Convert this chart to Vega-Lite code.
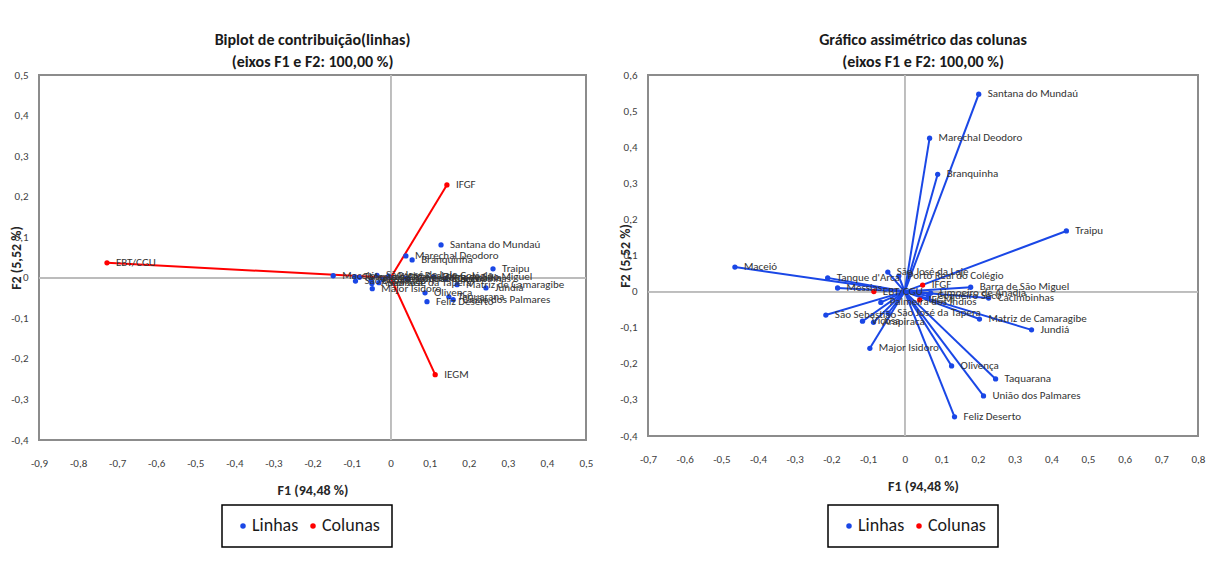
{
  "$schema": "https://vega.github.io/schema/vega-lite/v6.json",
  "background": "white",
  "padding": {"left": 8, "top": 31, "right": 5, "bottom": 5},
  "datasets": {
    "pts": [
      {"p": "L", "n": "EBT/CGU", "x": -0.726, "y": 0.037, "t": "Colunas"},
      {"p": "L", "n": "IFGF", "x": 0.144, "y": 0.229, "t": "Colunas"},
      {"p": "L", "n": "IEGM", "x": 0.114, "y": -0.239, "t": "Colunas"},
      {"p": "L", "n": "Santana do Mundaú", "x": 0.129, "y": 0.081, "t": "Linhas"},
      {"p": "L", "n": "Marechal Deodoro", "x": 0.039, "y": 0.054, "t": "Linhas"},
      {"p": "L", "n": "Branquinha", "x": 0.055, "y": 0.044, "t": "Linhas"},
      {"p": "L", "n": "Traipu", "x": 0.262, "y": 0.022, "t": "Linhas"},
      {"p": "L", "n": "Maceió", "x": -0.147, "y": 0.005, "t": "Linhas"},
      {"p": "L", "n": "Tanque d'Arca", "x": -0.092, "y": 0.003, "t": "Linhas"},
      {"p": "L", "n": "Messias", "x": -0.08, "y": 0.001, "t": "Linhas"},
      {"p": "L", "n": "São José da Laje", "x": -0.035, "y": 0.006, "t": "Linhas"},
      {"p": "L", "n": "Porto Real do Colégio", "x": -0.005, "y": 0.004, "t": "Linhas"},
      {"p": "L", "n": "Palmeira dos Índios", "x": -0.02, "y": -0.004, "t": "Linhas"},
      {"p": "L", "n": "São Sebastião", "x": -0.09, "y": -0.008, "t": "Linhas"},
      {"p": "L", "n": "São José da Tapera", "x": -0.03, "y": -0.012, "t": "Linhas"},
      {"p": "L", "n": "Arapiraca", "x": -0.048, "y": -0.014, "t": "Linhas"},
      {"p": "L", "n": "Viçosa", "x": -0.05, "y": -0.006, "t": "Linhas"},
      {"p": "L", "n": "Major Isidoro", "x": -0.047, "y": -0.027, "t": "Linhas"},
      {"p": "L", "n": "Limoeiro de Anadia", "x": 0.04, "y": -0.001, "t": "Linhas"},
      {"p": "L", "n": "Coqueiro Seco", "x": 0.045, "y": -0.003, "t": "Linhas"},
      {"p": "L", "n": "Barra de São Miguel", "x": 0.11, "y": 0.002, "t": "Linhas"},
      {"p": "L", "n": "Cacimbinhas", "x": 0.14, "y": -0.003, "t": "Linhas"},
      {"p": "L", "n": "Matriz de Camaragibe", "x": 0.17, "y": -0.017, "t": "Linhas"},
      {"p": "L", "n": "Jundiá", "x": 0.244, "y": -0.025, "t": "Linhas"},
      {"p": "L", "n": "Olivença", "x": 0.088, "y": -0.037, "t": "Linhas"},
      {"p": "L", "n": "Taquarana", "x": 0.149, "y": -0.047, "t": "Linhas"},
      {"p": "L", "n": "União dos Palmares", "x": 0.16, "y": -0.054, "t": "Linhas"},
      {"p": "L", "n": "Feliz Deserto", "x": 0.093, "y": -0.059, "t": "Linhas"},
      {"p": "R", "n": "EBT/CGU", "x": -0.084, "y": 0.0, "t": "Colunas"},
      {"p": "R", "n": "IFGF", "x": 0.049, "y": 0.018, "t": "Colunas"},
      {"p": "R", "n": "IEGM", "x": 0.041, "y": -0.023, "t": "Colunas"},
      {"p": "R", "n": "Santana do Mundaú", "x": 0.202, "y": 0.547, "t": "Linhas"},
      {"p": "R", "n": "Marechal Deodoro", "x": 0.068, "y": 0.425, "t": "Linhas"},
      {"p": "R", "n": "Branquinha", "x": 0.09, "y": 0.325, "t": "Linhas"},
      {"p": "R", "n": "Traipu", "x": 0.441, "y": 0.168, "t": "Linhas"},
      {"p": "R", "n": "Maceió", "x": -0.463, "y": 0.068, "t": "Linhas"},
      {"p": "R", "n": "Tanque d'Arca", "x": -0.21, "y": 0.038, "t": "Linhas"},
      {"p": "R", "n": "Messias", "x": -0.183, "y": 0.01, "t": "Linhas"},
      {"p": "R", "n": "São José da Laje", "x": -0.046, "y": 0.054, "t": "Linhas"},
      {"p": "R", "n": "Porto Real do Colégio", "x": -0.016, "y": 0.043, "t": "Linhas"},
      {"p": "R", "n": "Palmeira dos Índios", "x": -0.065, "y": -0.03, "t": "Linhas"},
      {"p": "R", "n": "São Sebastião", "x": -0.215, "y": -0.065, "t": "Linhas"},
      {"p": "R", "n": "São José da Tapera", "x": -0.045, "y": -0.06, "t": "Linhas"},
      {"p": "R", "n": "Arapiraca", "x": -0.085, "y": -0.085, "t": "Linhas"},
      {"p": "R", "n": "Viçosa", "x": -0.115, "y": -0.082, "t": "Linhas"},
      {"p": "R", "n": "Major Isidoro", "x": -0.095, "y": -0.157, "t": "Linhas"},
      {"p": "R", "n": "Limoeiro de Anadia", "x": 0.071, "y": -0.004, "t": "Linhas"},
      {"p": "R", "n": "Coqueiro Seco", "x": 0.065, "y": -0.012, "t": "Linhas"},
      {"p": "R", "n": "Barra de São Miguel", "x": 0.18, "y": 0.012, "t": "Linhas"},
      {"p": "R", "n": "Cacimbinhas", "x": 0.229, "y": -0.018, "t": "Linhas"},
      {"p": "R", "n": "Matriz de Camaragibe", "x": 0.204, "y": -0.076, "t": "Linhas"},
      {"p": "R", "n": "Jundiá", "x": 0.346, "y": -0.106, "t": "Linhas"},
      {"p": "R", "n": "Olivença", "x": 0.128, "y": -0.206, "t": "Linhas"},
      {"p": "R", "n": "Taquarana", "x": 0.248, "y": -0.242, "t": "Linhas"},
      {"p": "R", "n": "União dos Palmares", "x": 0.215, "y": -0.289, "t": "Linhas"},
      {"p": "R", "n": "Feliz Deserto", "x": 0.136, "y": -0.347, "t": "Linhas"}
    ]
  },
  "config": {
    "font": "Carlito, Lato, Roboto, sans-serif",
    "view": {"stroke": "#8c8c8c", "strokeWidth": 2},
    "axis": {
      "grid": false, "domain": false, "ticks": false, "labelFlush": false,
      "labelFontSize": 11, "labelColor": "#404040", "labelPadding": 11,
      "titleFontSize": 14, "titleColor": "#262626", "titleFontWeight": "bold"
    },
    "title": {"fontSize": 16, "fontWeight": "bold", "color": "#1a1a1a", "lineHeight": 22, "offset": -1, "anchor": "middle"},
    "legend": {
      "orient": "none", "direction": "horizontal", "title": null,
      "strokeColor": "#000000", "strokeWidth": 1.5, "padding": 12,
      "labelFontSize": 18, "labelColor": "#1a1a1a", "symbolType": "circle",
      "symbolSize": 30, "symbolStrokeWidth": 0, "columnPadding": 5, "labelOffset": 0
    }
  },
  "spacing": 23,
  "resolve": {"scale": {"color": "independent"}, "legend": {"color": "independent"}},
  "hconcat": [
    {
      "width": 547, "height": 365,
      "title": {"text": ["Biplot de contribuição(linhas)", "(eixos F1 e F2: 100,00 %)"]},
      "data": {"name": "pts"},
      "transform": [{"filter": "datum.p == 'L'"}],
      "encoding": {
        "x": {"field": "x", "type": "quantitative",
          "scale": {"domain": [-0.9, 0.5], "nice": false, "zero": false},
          "axis": {"title": "F1 (94,48 %)", "values": [-0.9, -0.8, -0.7, -0.6, -0.5, -0.4, -0.3, -0.2, -0.1, 0, 0.1, 0.2, 0.3, 0.4, 0.5], "labelPadding": 17, "titlePadding": 15,
            "labelExpr": "datum.value == 0 ? '0' : replace(replace(format(datum.value, '.1f'), '.', ','), '\u2212', '-')"}},
        "y": {"field": "y", "type": "quantitative",
          "scale": {"domain": [-0.4, 0.5], "nice": false, "zero": false},
          "axis": {"title": "F2 (5,52 %)", "values": [-0.4, -0.3, -0.2, -0.1, 0, 0.1, 0.2, 0.3, 0.4, 0.5], "titlePadding": -13,
            "labelExpr": "datum.value == 0 ? '0' : replace(replace(format(datum.value, '.1f'), '.', ','), '\u2212', '-')"}}
      },
      "layer": [
        {"mark": {"type": "rule", "color": "#bdbdbd", "strokeWidth": 1}, "encoding": {"x": {"datum": 0}, "y": null}},
        {"mark": {"type": "rule", "color": "#bdbdbd", "strokeWidth": 1}, "encoding": {"y": {"datum": 0}, "x": null}},
        {"transform": [{"filter": "datum.t == 'Colunas'"}],
         "mark": {"type": "rule", "color": "#ff0000", "strokeWidth": 2},
         "encoding": {"x2": {"datum": 0}, "y2": {"datum": 0}}},
        {"mark": {"type": "circle", "size": 28, "opacity": 1},
         "encoding": {"color": {"field": "t", "type": "nominal",
           "scale": {"domain": ["Linhas", "Colunas"], "range": ["#1a47e6", "#ff0000"]},
           "legend": {"legendX": 183, "legendY": 430}}}},
        {"mark": {"type": "text", "align": "left", "baseline": "middle", "dx": 9, "fontSize": 11, "color": "#333333"},
         "encoding": {"text": {"field": "n"}}}
      ]
    },
    {
      "width": 550, "height": 361,
      "title": {"text": ["Gráfico assimétrico das colunas", "(eixos F1 e F2: 100,00 %)"]},
      "data": {"name": "pts"},
      "transform": [{"filter": "datum.p == 'R'"}],
      "encoding": {
        "x": {"field": "x", "type": "quantitative",
          "scale": {"domain": [-0.7, 0.8], "nice": false, "zero": false},
          "axis": {"title": "F1 (94,48 %)", "values": [-0.7, -0.6, -0.5, -0.4, -0.3, -0.2, -0.1, 0, 0.1, 0.2, 0.3, 0.4, 0.5, 0.6, 0.7, 0.8], "labelPadding": 17, "titlePadding": 15,
            "labelExpr": "datum.value == 0 ? '0' : replace(replace(format(datum.value, '.1f'), '.', ','), '\u2212', '-')"}},
        "y": {"field": "y", "type": "quantitative",
          "scale": {"domain": [-0.4, 0.6], "nice": false, "zero": false},
          "axis": {"title": "F2 (5,52 %)", "values": [-0.4, -0.3, -0.2, -0.1, 0, 0.1, 0.2, 0.3, 0.4, 0.5, 0.6], "titlePadding": -13,
            "labelExpr": "datum.value == 0 ? '0' : replace(replace(format(datum.value, '.1f'), '.', ','), '\u2212', '-')"}}
      },
      "layer": [
        {"mark": {"type": "rule", "color": "#bdbdbd", "strokeWidth": 1}, "encoding": {"x": {"datum": 0}, "y": null}},
        {"mark": {"type": "rule", "color": "#bdbdbd", "strokeWidth": 1}, "encoding": {"y": {"datum": 0}, "x": null}},
        {"transform": [{"filter": "datum.t == 'Linhas'"}],
         "mark": {"type": "rule", "color": "#1a47e6", "strokeWidth": 2},
         "encoding": {"x2": {"datum": 0}, "y2": {"datum": 0}}},
        {"mark": {"type": "circle", "size": 28, "opacity": 1},
         "encoding": {"color": {"field": "t", "type": "nominal",
           "scale": {"domain": ["Linhas", "Colunas"], "range": ["#1a47e6", "#ff0000"]},
           "legend": {"legendX": 180, "legendY": 430}}}},
        {"mark": {"type": "text", "align": "left", "baseline": "middle", "dx": 9, "fontSize": 11, "color": "#333333"},
         "encoding": {"text": {"field": "n"}}}
      ]
    }
  ]
}
